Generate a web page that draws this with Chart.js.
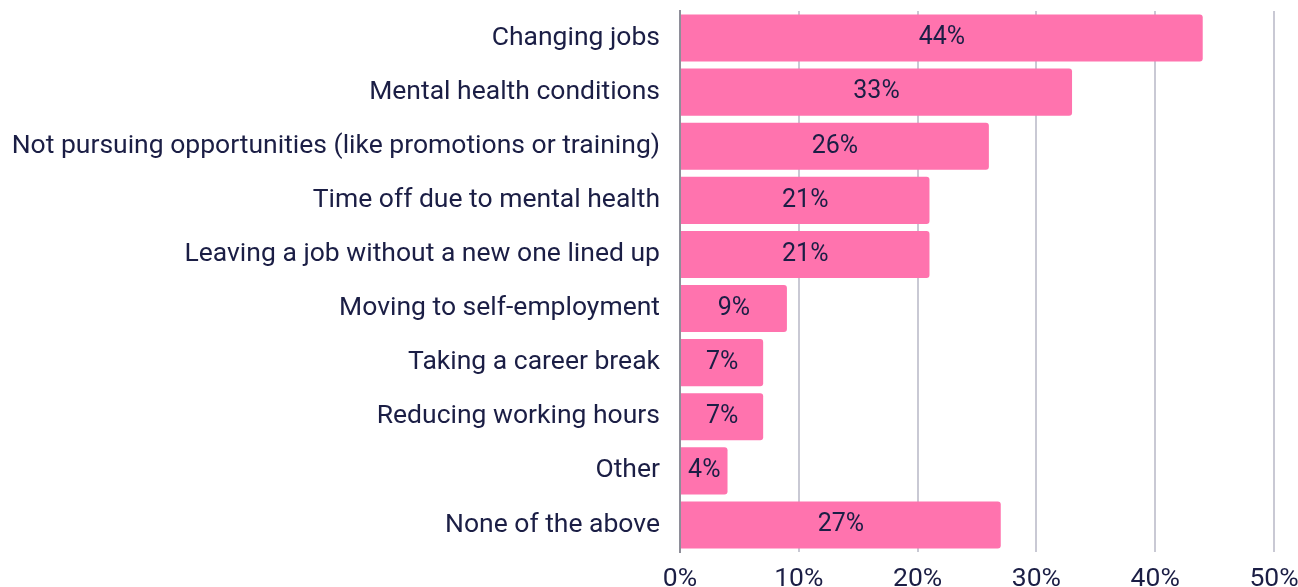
<!DOCTYPE html>
<html>
<head>
<meta charset="utf-8">
<script src="https://cdn.jsdelivr.net/npm/chart.js@4"></script>
<style>
  html, body { margin: 0; padding: 0; background: #fff; overflow: hidden; }
  #wrap { position: relative; width: 1298px; height: 600px; }
</style>
</head>
<body>
<div id="wrap"><canvas id="chart"></canvas></div>
<script>
"use strict";

const categories = [
  "Changing jobs",
  "Mental health conditions",
  "Not pursuing opportunities (like promotions or training)",
  "Time off due to mental health",
  "Leaving a job without a new one lined up",
  "Moving to self-employment",
  "Taking a career break",
  "Reducing working hours",
  "Other",
  "None of the above",
];
const shares = [44, 33, 26, 21, 21, 9, 7, 7, 4, 27];
const xTicks = [0, 10, 20, 30, 40, 50];

const navy = "#1b1e45";
const pink = "#ff73ae";

// draws the "44%" style labels in the middle of each bar
const barLabels = {
  id: "barLabels",
  afterDatasetsDraw(chart) {
    const ctx = chart.ctx;
    const meta = chart.getDatasetMeta(0);
    ctx.save();
    ctx.font = "25px Roboto";
    ctx.fillStyle = navy;
    ctx.textAlign = "center";
    ctx.textBaseline = "middle";
    meta.data.forEach((bar, i) => {
      const { x, y, base } = bar.getProps(["x", "y", "base"], true);
      ctx.fillText(shares[i] + "%", (x + base) / 2, y);
    });
    ctx.restore();
  },
};

new Chart(document.getElementById("chart"), {
  type: "bar",
  data: {
    labels: categories,
    datasets: [
      {
        data: shares,
        backgroundColor: pink,
        borderRadius: 3,
        borderSkipped: "start",
        barPercentage: 0.87,
        categoryPercentage: 1,
      },
    ],
  },
  options: {
    indexAxis: "y",
    responsive: true,
    maintainAspectRatio: false,
    animation: false,
    layout: { padding: { top: 11, right: 24, left: 0, bottom: 0 } },
    plugins: { legend: { display: false }, tooltip: { enabled: false } },
    scales: {
      x: {
        min: 0,
        max: 50,
        afterBuildTicks: (scale) => {
          scale.ticks = xTicks.map((v) => ({ value: v }));
        },
        afterFit: (scale) => {
          scale.height = 48;
          scale.paddingLeft = 0;
          scale.paddingRight = 0;
        },
        grid: { color: "#c9c9d4", lineWidth: 2, drawTicks: false },
        border: { display: false },
        ticks: {
          padding: 11,
          color: navy,
          font: { family: "Roboto", size: 26.5 },
          callback: (v) => v + "%",
        },
      },
      y: {
        afterFit: (scale) => {
          scale.width = 680;
          scale.paddingTop = 0;
          scale.paddingBottom = 0;
        },
        grid: { display: false, drawTicks: false },
        border: { display: true, color: "#8e8e99", width: 2 },
        ticks: {
          padding: 20,
          color: navy,
          font: { family: "Roboto", size: 26.5 },
        },
      },
    },
  },
  plugins: [barLabels],
});
</script>
</body>
</html>
